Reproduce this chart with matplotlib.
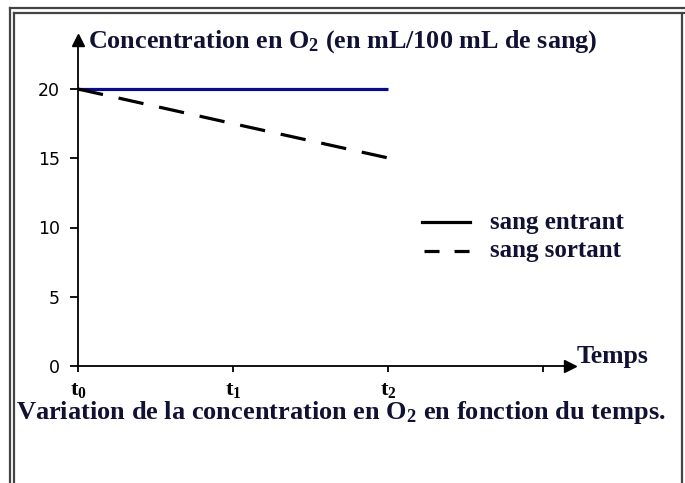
import matplotlib
matplotlib.use("Agg")
import matplotlib.pyplot as plt
from matplotlib.lines import Line2D

plt.rcParams['mathtext.fontset'] = 'custom'
plt.rcParams['mathtext.rm'] = 'Liberation Serif'
plt.rcParams['mathtext.bf'] = 'Liberation Serif:bold'
plt.rcParams['mathtext.it'] = 'Liberation Serif:italic'

# donnees
temps_entrant = [0, 2.0]
conc_entrant = [20, 20]
temps_sortant = [0, 1, 2.05]
conc_sortant = [20, 17.5, 14.9]
yticks = [0, 5, 10, 15, 20]
xticks = [0, 1, 2, 3]
xlabels = [r'$\mathbf{t_0}$', r'$\mathbf{t_1}$', r'$\mathbf{t_2}$', '']

W, H = 685, 483
fig = plt.figure(figsize=(W / 100, H / 100), dpi=100)

# cadre double
def ligne(x0, y0, x1, y1, lw=1.6, c='#444444'):
    fig.add_artist(Line2D([x0 / W, x1 / W], [1 - y0 / H, 1 - y1 / H], lw=lw, color=c))

ligne(9.5, 8, 9.5, H)
ligne(14, 12.5, 14, H)
ligne(9.5, 8, W, 8)
ligne(14, 12.5, W, 12.5)
ligne(682, 12.5, 682, H)

ax = fig.add_axes([78 / W, 117 / H, 492 / W, 326 / H])
ax.plot(temps_entrant, conc_entrant, color='#0b0b8a', lw=2.3, solid_capstyle='butt')
ax.plot(temps_sortant, conc_sortant, color='black', lw=2.3, dashes=(8, 5))

ax.set_xlim(0, 492 / 155)
ax.set_ylim(0, 326 / 13.85)
ax.spines['top'].set_visible(False)
ax.spines['right'].set_visible(False)
for s in ['left', 'bottom']:
    ax.spines[s].set_linewidth(1.3)

# fleches des axes
ax.plot(1, 0, '>k', ms=8, transform=ax.get_yaxis_transform(), clip_on=False)
ax.plot(0, 1, '^k', ms=8, transform=ax.get_xaxis_transform(), clip_on=False)

ax.set_yticks(yticks)
ax.set_yticklabels([str(v) for v in yticks], fontsize=12.5, family='DejaVu Sans')
ax.tick_params(axis='y', length=6, width=1.3, pad=7)
ax.set_xticks(xticks)
ax.set_xticklabels(xlabels, fontsize=16)
ax.tick_params(axis='x', length=4, width=1.3, pad=6)

serif = dict(family='Liberation Serif', weight='bold', color='#111133')
fig.text(88 / W, 1 - 42 / H, r'Concentration en O$\mathbf{_2}$ (en mL/100 mL de sang)',
         fontsize=18.8, va='center', ha='left', **serif)
fig.text(577 / W, 1 - 357 / H, 'Temps', fontsize=18.5, va='center', ha='left', **serif)
fig.text(16 / W, 1 - 413 / H,
         r'Variation de la concentration en O$\mathbf{_2}$ en fonction du temps.',
         fontsize=19, va='center', ha='left', **serif)

# legende
fig.add_artist(Line2D([422 / W, 470 / W], [1 - 222 / H] * 2, lw=2.3, color='black'))
fig.add_artist(Line2D([424 / W, 470 / W], [1 - 251 / H] * 2, lw=2.3, color='black', dashes=(4.7, 4.7)))
fig.text(490 / W, 1 - 222 / H, 'sang entrant', fontsize=18, va='center', ha='left', **serif)
fig.text(490 / W, 1 - 251 / H, 'sang sortant', fontsize=18, va='center', ha='left', **serif)

fig.savefig('out.png', dpi=100)
